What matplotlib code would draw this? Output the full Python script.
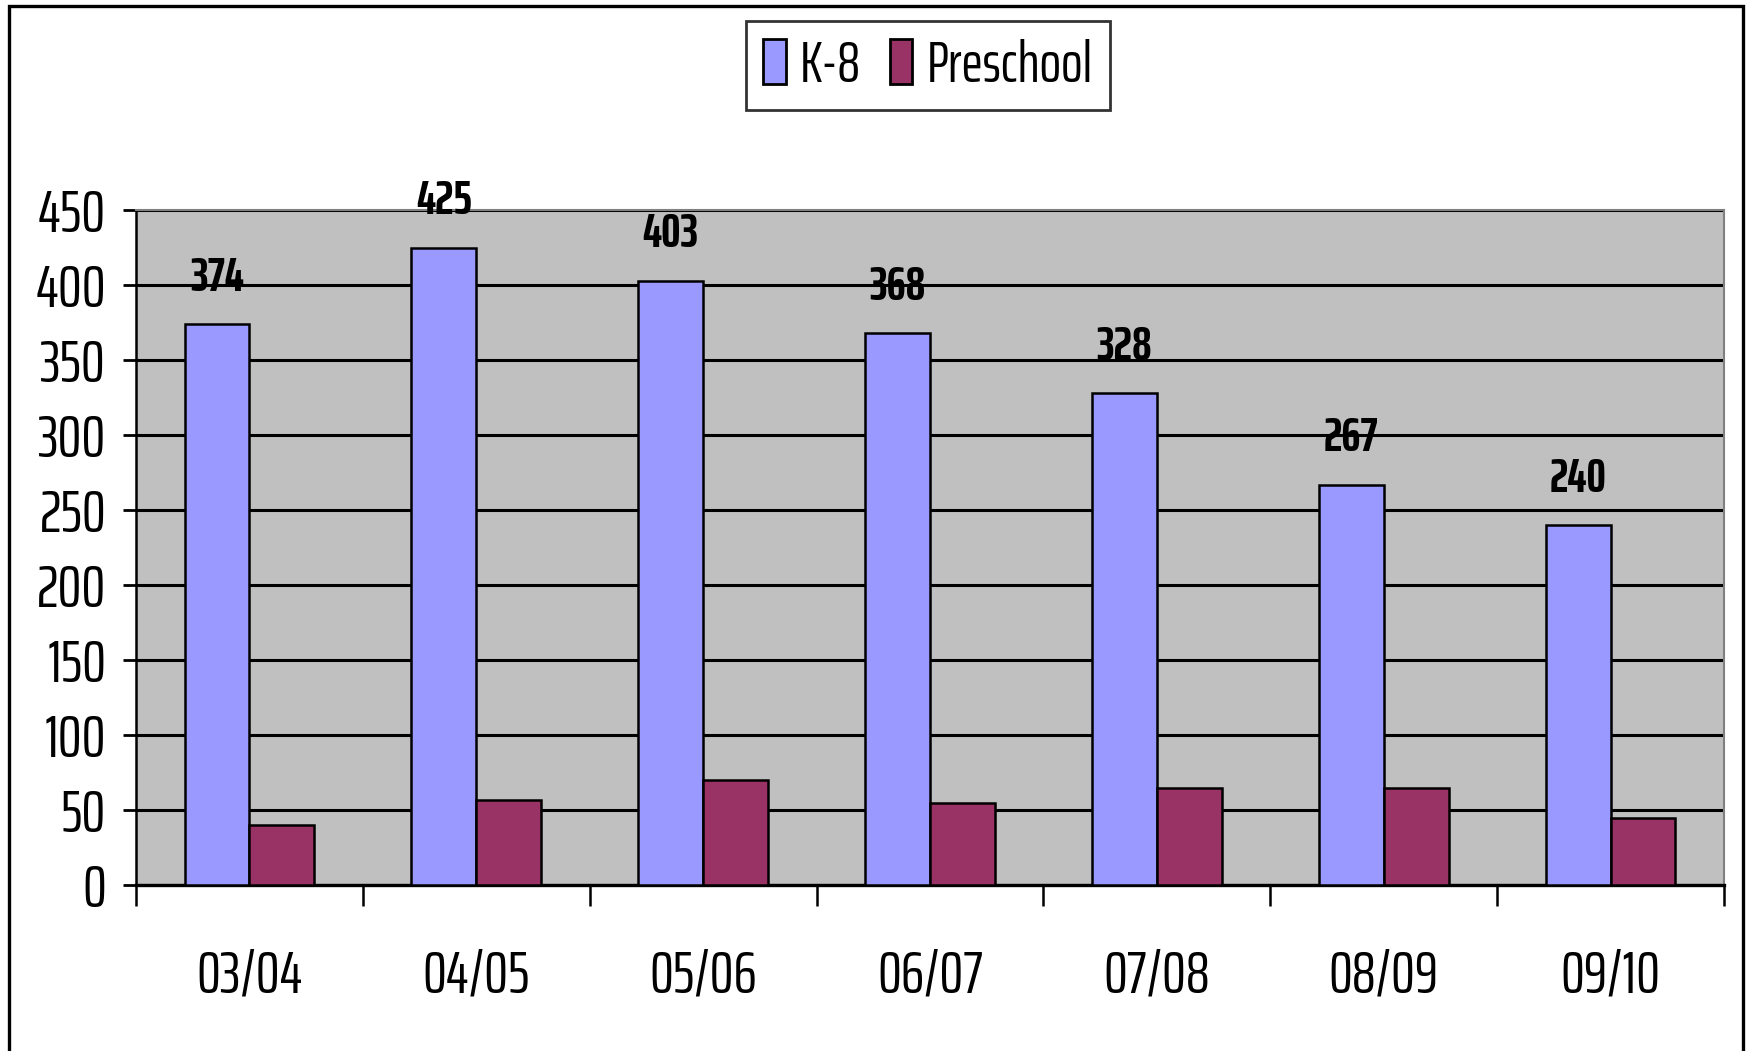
import matplotlib
matplotlib.use("Agg")
import matplotlib.pyplot as plt
from matplotlib.patches import Rectangle
import numpy as np

categories = ["03/04", "04/05", "05/06", "06/07", "07/08", "08/09", "09/10"]
k8 = [374, 425, 403, 368, 328, 267, 240]
preschool = [40, 57, 70, 55, 65, 65, 45]
yticks = [0, 50, 100, 150, 200, 250, 300, 350, 400, 450]

FONT = ['Saira ExtraCondensed', 'Roboto Condensed', 'DejaVu Sans']
plt.rcParams['font.family'] = FONT

fig = plt.figure(figsize=(17.5, 10.51), dpi=100)
ax = fig.add_axes([136/1750, 1-885/1051, (1724-136)/1750, (885-210)/1051])
ax.set_facecolor('#C0C0C0')

x = np.arange(len(categories))
w = 1/3.5
ax.bar(x - w/2, k8, w, color='#9999FF', edgecolor='black', linewidth=1.8, zorder=3, label='K-8')
ax.bar(x + w/2, preschool, w, color='#993366', edgecolor='black', linewidth=1.8, zorder=3, label='Preschool')

for xi, v in zip(x, k8):
    ax.annotate(str(v), (xi - w/2, v), xytext=(0, 24), textcoords='offset points',
                ha='center', va='baseline', fontsize=35, fontweight='bold', zorder=5)

ax.set_xlim(-0.5, len(categories) - 0.5)
ax.set_ylim(0, 450)
ax.set_yticks(yticks)
ax.set_yticklabels([str(t) for t in yticks], fontsize=43)
ax.yaxis.grid(True, color='black', linewidth=2.2, zorder=1)
ax.set_axisbelow(True)

ax.set_xticks(x)
ax.set_xticklabels(categories, fontsize=43)
ax.set_xticks(np.arange(-0.5, len(categories), 1.0), minor=True)
ax.tick_params(axis='x', which='major', length=0, pad=46)
ax.tick_params(axis='x', which='minor', length=15, width=1.8, direction='out', color='black')
ax.tick_params(axis='y', which='major', length=9.5, width=2, direction='out', pad=12, color='black')

for s in ['top', 'right']:
    ax.spines[s].set_color('#808080')
    ax.spines[s].set_linewidth(1.5)
ax.spines['left'].set_color('black')
ax.spines['left'].set_linewidth(1.8)
ax.spines['bottom'].set_color('black')
ax.spines['bottom'].set_linewidth(2.4)

leg = fig.legend(loc='center', bbox_to_anchor=(928/1750, 1-65.5/1051), ncol=2,
                 fontsize=41, frameon=True, fancybox=False, handlelength=0.4, handleheight=0.85,
                 handletextpad=0.25, columnspacing=0.5, borderpad=0.3, borderaxespad=0)
leg.get_frame().set_edgecolor('black')
leg.get_frame().set_linewidth(2)
for h in leg.legend_handles:
    h.set_edgecolor('black')
    h.set_linewidth(2)

border = Rectangle((9/1750, -0.02), (1743-9)/1750, 1.02 - 6/1051, transform=fig.transFigure,
                   fill=False, edgecolor='black', linewidth=2.4, clip_on=False)
fig.patches.append(border)

fig.savefig('out.png', dpi=100)
